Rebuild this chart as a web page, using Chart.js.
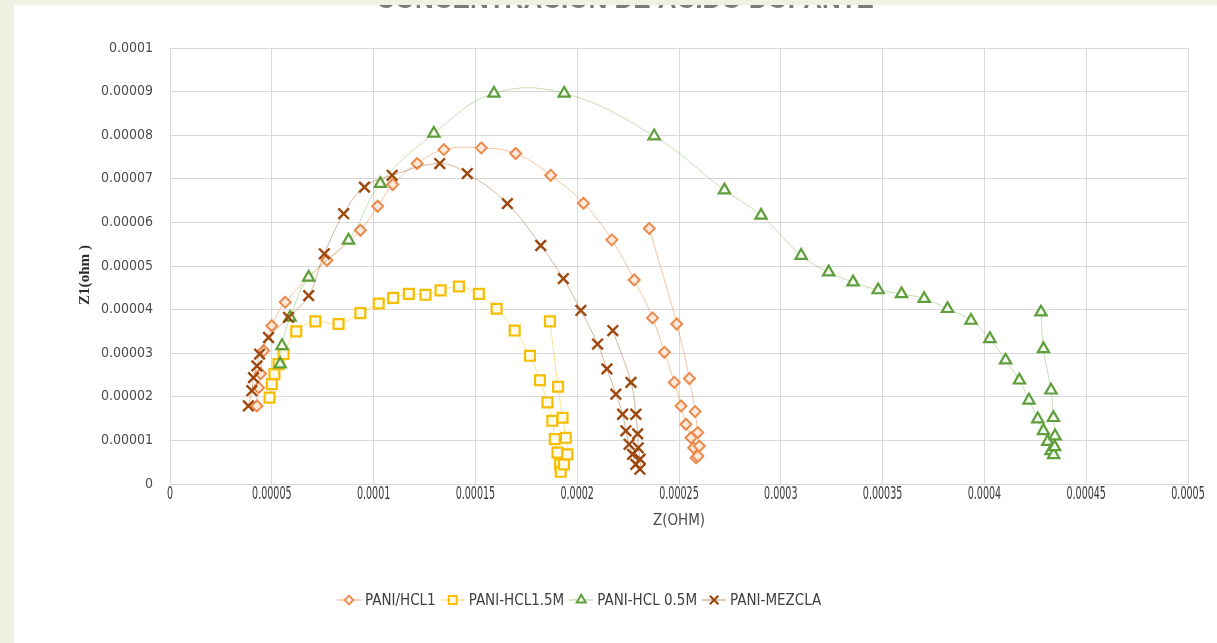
<!DOCTYPE html>
<html>
<head>
<meta charset="utf-8">
<title>Impedancia PANI</title>
<script src="https://cdn.jsdelivr.net/npm/chart.js@4.4.1/dist/chart.umd.min.js"></script>
<style>
  html, body { margin: 0; padding: 0; width: 1217px; height: 643px; overflow: hidden; background: #eef2e3; }
  #panel { position: absolute; left: 14px; top: 5px; width: 1203px; height: 638px; background: #ffffff; overflow: hidden; }
  #wrap { position: absolute; left: 0; top: -19px; width: 1203px; height: 657px; }
</style>
</head>
<body>
<div id="panel"><div id="wrap"><canvas id="c" width="1203" height="657"></canvas></div></div>
<script>
// Nyquist data: real part Z (ohm) and imaginary part Z1 (ohm) per sample
const seriesNames = ['PANI/HCL1', 'PANI-HCL1.5M', 'PANI-HCL 0.5M', 'PANI-MEZCLA'];

const hcl1X = [4.27e-5, 4.35e-5, 4.45e-5, 4.6e-5, 5.0e-5, 5.66e-5, 7.71e-5, 9.35e-5, 1.02e-4, 1.094e-4, 1.214e-4, 1.345e-4, 1.529e-4, 1.698e-4, 1.87e-4, 2.031e-4, 2.17e-4, 2.28e-4, 2.37e-4, 2.428e-4, 2.477e-4, 2.51e-4, 2.534e-4, 2.559e-4, 2.572e-4, 2.584e-4, 2.593e-4, 2.6e-4, 2.592e-4, 2.579e-4, 2.551e-4, 2.489e-4, 2.354e-4];
const hcl1Y = [1.79e-5, 2.21e-5, 2.53e-5, 3.06e-5, 3.63e-5, 4.17e-5, 5.13e-5, 5.82e-5, 6.37e-5, 6.87e-5, 7.35e-5, 7.67e-5, 7.71e-5, 7.58e-5, 7.08e-5, 6.44e-5, 5.6e-5, 4.68e-5, 3.81e-5, 3.02e-5, 2.33e-5, 1.79e-5, 1.37e-5, 1.06e-5, 8.3e-6, 6.0e-6, 6.4e-6, 8.7e-6, 1.18e-5, 1.66e-5, 2.42e-5, 3.67e-5, 5.86e-5];

const hcl15X = [4.89e-5, 5.0e-5, 5.13e-5, 5.33e-5, 5.58e-5, 6.2e-5, 7.14e-5, 8.28e-5, 9.35e-5, 1.025e-4, 1.096e-4, 1.173e-4, 1.255e-4, 1.329e-4, 1.419e-4, 1.517e-4, 1.604e-4, 1.693e-4, 1.768e-4, 1.817e-4, 1.854e-4, 1.878e-4, 1.89e-4, 1.903e-4, 1.916e-4, 1.919e-4, 1.935e-4, 1.952e-4, 1.944e-4, 1.928e-4, 1.906e-4, 1.866e-4];
const hcl15Y = [1.98e-5, 2.29e-5, 2.52e-5, 2.75e-5, 2.98e-5, 3.5e-5, 3.73e-5, 3.67e-5, 3.92e-5, 4.14e-5, 4.27e-5, 4.36e-5, 4.34e-5, 4.44e-5, 4.53e-5, 4.36e-5, 4.02e-5, 3.52e-5, 2.94e-5, 2.38e-5, 1.87e-5, 1.45e-5, 1.03e-5, 7.2e-6, 4.5e-6, 2.8e-6, 4.5e-6, 6.8e-6, 1.06e-5, 1.52e-5, 2.23e-5, 3.73e-5];

const hcl05X = [5.41e-5, 5.5e-5, 5.9e-5, 6.81e-5, 8.77e-5, 1.033e-4, 1.296e-4, 1.591e-4, 1.936e-4, 2.378e-4, 2.723e-4, 2.903e-4, 3.1e-4, 3.235e-4, 3.355e-4, 3.478e-4, 3.593e-4, 3.704e-4, 3.819e-4, 3.934e-4, 4.027e-4, 4.104e-4, 4.172e-4, 4.219e-4, 4.262e-4, 4.29e-4, 4.311e-4, 4.327e-4, 4.34e-4, 4.345e-4, 4.347e-4, 4.339e-4, 4.327e-4, 4.29e-4, 4.278e-4];
const hcl05Y = [2.75e-5, 3.17e-5, 3.82e-5, 4.74e-5, 5.59e-5, 6.89e-5, 8.04e-5, 8.96e-5, 8.96e-5, 7.98e-5, 6.74e-5, 6.16e-5, 5.24e-5, 4.86e-5, 4.63e-5, 4.45e-5, 4.36e-5, 4.25e-5, 4.02e-5, 3.75e-5, 3.33e-5, 2.84e-5, 2.38e-5, 1.92e-5, 1.49e-5, 1.22e-5, 9.7e-6, 7.6e-6, 6.7e-6, 8.5e-6, 1.1e-5, 1.52e-5, 2.15e-5, 3.1e-5, 3.94e-5];

const mezclaX = [3.85e-5, 4.02e-5, 4.1e-5, 4.27e-5, 4.4e-5, 4.84e-5, 5.82e-5, 6.81e-5, 7.58e-5, 8.53e-5, 9.55e-5, 1.091e-4, 1.325e-4, 1.46e-4, 1.657e-4, 1.821e-4, 1.932e-4, 2.018e-4, 2.1e-4, 2.146e-4, 2.19e-4, 2.223e-4, 2.239e-4, 2.255e-4, 2.272e-4, 2.288e-4, 2.308e-4, 2.309e-4, 2.3e-4, 2.297e-4, 2.288e-4, 2.264e-4, 2.175e-4];
const mezclaY = [1.79e-5, 2.14e-5, 2.44e-5, 2.71e-5, 2.98e-5, 3.36e-5, 3.82e-5, 4.32e-5, 5.28e-5, 6.2e-5, 6.81e-5, 7.08e-5, 7.35e-5, 7.12e-5, 6.43e-5, 5.47e-5, 4.71e-5, 3.98e-5, 3.21e-5, 2.64e-5, 2.06e-5, 1.6e-5, 1.22e-5, 9.1e-6, 6.8e-6, 4.5e-6, 3.4e-6, 5.7e-6, 8.3e-6, 1.15e-5, 1.6e-5, 2.33e-5, 3.52e-5];

const xTickValues = [0, 0.00005, 0.0001, 0.00015, 0.0002, 0.00025, 0.0003, 0.00035, 0.0004, 0.00045, 0.0005];
const xTickLabels = ['0', '0.00005', '0.0001', '0.00015', '0.0002', '0.00025', '0.0003', '0.00035', '0.0004', '0.00045', '0.0005'];
const yTickValues = [0, 0.00001, 0.00002, 0.00003, 0.00004, 0.00005, 0.00006, 0.00007, 0.00008, 0.00009, 0.0001];
const yTickLabels = ['0', '0.00001', '0.00002', '0.00003', '0.00004', '0.00005', '0.00006', '0.00007', '0.00008', '0.00009', '0.0001'];

const chartTitle = 'CONCENTRACION DE ACIDO DOPANTE';
const xTitle = 'Z(OHM)';
const yTitle = 'Z1(ohm )';

const toPoints = (xs, ys) => xs.map((x, i) => ({ x: x, y: ys[i] }));

const NARROW = '"Liberation Sans Narrow", "DejaVu Sans Condensed", "Liberation Sans", sans-serif';
const TEXT_GREY = '#4d4d4d';

function series(label, xs, ys, style, order) {
  return Object.assign({
    label: label,
    data: toPoints(xs, ys),
    showLine: true,
    tension: 0.4,
    borderWidth: 1,
    order: order
  }, style);
}

const datasets = [
  series(seriesNames[0], hcl1X, hcl1Y, {
    borderColor: 'rgba(237,125,49,0.45)', pointStyle: 'rectRot', pointRadius: 5.5,
    pointBorderWidth: 2, pointBorderColor: '#ec8a4c', pointBackgroundColor: '#fdeadc'
  }, 4),
  series(seriesNames[1], hcl15X, hcl15Y, {
    borderColor: 'rgba(255,192,0,0.45)', pointStyle: 'rect', pointRadius: 7,
    pointBorderWidth: 2.2, pointBorderColor: '#f7bd00', pointBackgroundColor: '#fffbea'
  }, 3),
  series(seriesNames[2], hcl05X, hcl05Y, {
    borderColor: 'rgba(112,173,71,0.4)', pointStyle: 'triangle', pointRadius: 6.5,
    pointBorderWidth: 2.2, pointBorderColor: '#5f9e3c', pointBackgroundColor: '#f3faee'
  }, 2),
  series(seriesNames[3], mezclaX, mezclaY, {
    borderColor: 'rgba(158,72,14,0.4)', pointStyle: 'crossRot', pointRadius: 7.5,
    pointBorderWidth: 2.4, pointBorderColor: '#9e480e', pointBackgroundColor: '#9e480e'
  }, 1)
];

// marker shapes for the legend, same geometry as the point styles used above
function markerPath(ctx, style, x, y, r) {
  ctx.beginPath();
  if (style === 'rectRot') {
    ctx.moveTo(x, y - r); ctx.lineTo(x + r, y); ctx.lineTo(x, y + r); ctx.lineTo(x - r, y); ctx.closePath();
  } else if (style === 'rect') {
    const s = r * Math.SQRT1_2;
    ctx.rect(x - s, y - s, 2 * s, 2 * s);
  } else if (style === 'triangle') {
    ctx.moveTo(x, y - r);
    ctx.lineTo(x + r * 0.866, y + r * 0.5);
    ctx.lineTo(x - r * 0.866, y + r * 0.5);
    ctx.closePath();
  } else if (style === 'crossRot') {
    const d = r * Math.SQRT1_2;
    ctx.moveTo(x - d, y - d); ctx.lineTo(x + d, y + d);
    ctx.moveTo(x + d, y - d); ctx.lineTo(x - d, y + d);
  }
}

const decorations = {
  id: 'decorations',
  afterDraw(chart) {
    const ctx = chart.ctx;
    ctx.save();

    // chart title (sits above the visible frame)
    ctx.font = 'bold 26px "Liberation Sans", Arial, sans-serif';
    ctx.fillStyle = '#7a7a7a';
    ctx.textAlign = 'center';
    ctx.textBaseline = 'alphabetic';
    ctx.fillText(chartTitle, 611, 22);

    // condensed tick labels under the horizontal axis, placed by the x scale
    const xs = chart.scales.x;
    ctx.font = '18px ' + NARROW;
    ctx.fillStyle = '#383838';
    ctx.textAlign = 'center';
    ctx.textBaseline = 'middle';
    xTickValues.forEach((v, i) => {
      ctx.save();
      ctx.translate(xs.getPixelForValue(v), xs.top + 10);
      ctx.scale(0.59, 1);
      ctx.fillText(xTickLabels[i], 0, 0);
      ctx.restore();
    });

    // vertical axis title, bold and slightly elongated
    ctx.save();
    ctx.translate(71, 289);
    ctx.rotate(-Math.PI / 2);
    ctx.scale(1.08, 1);
    ctx.font = 'bold 14px "Liberation Serif", "DejaVu Serif", serif';
    ctx.fillStyle = '#2e2e2e';
    ctx.textAlign = 'center';
    ctx.textBaseline = 'middle';
    ctx.fillText(yTitle, 0, 0);
    ctx.restore();

    // legend: line segment with marker, then series name
    const ly = 614;
    let lx = 323;
    ctx.font = '15px ' + NARROW;
    ctx.textAlign = 'left';
    ctx.textBaseline = 'middle';
    chart.data.datasets.forEach(ds => {
      ctx.strokeStyle = ds.borderColor;
      ctx.lineWidth = 1.5;
      ctx.beginPath();
      ctx.moveTo(lx, ly); ctx.lineTo(lx + 24, ly);
      ctx.stroke();
      markerPath(ctx, ds.pointStyle, lx + 12, ly, ds.pointRadius * 0.8);
      ctx.lineWidth = ds.pointBorderWidth * 0.9;
      ctx.strokeStyle = ds.pointBorderColor;
      if (ds.pointStyle !== 'crossRot') {
        ctx.fillStyle = ds.pointBackgroundColor;
        ctx.fill();
      }
      ctx.stroke();
      ctx.fillStyle = '#404040';
      ctx.fillText(ds.label, lx + 28, ly + 1);
      lx += 28 + ctx.measureText(ds.label).width + 5;
    });
    ctx.restore();
  }
};

new Chart(document.getElementById('c'), {
  type: 'scatter',
  data: { datasets: datasets },
  options: {
    responsive: false,
    animation: false,
    layout: { padding: { left: 0, right: 29, top: 62, bottom: 63 } },
    plugins: {
      legend: { display: false },
      tooltip: { enabled: false },
      title: { display: false }
    },
    scales: {
      x: {
        type: 'linear',
        min: 0,
        max: 0.0005,
        afterBuildTicks: s => { s.ticks = xTickValues.map(v => ({ value: v })); },
        afterFit: s => { s.height = 96; },
        grid: { color: '#d9d9d9', lineWidth: 1, drawTicks: false },
        border: { color: '#d9d9d9' },
        ticks: { display: false },
        title: {
          display: true, text: xTitle, color: TEXT_GREY,
          font: { family: NARROW, size: 15 },
          padding: { top: 0, bottom: 50 }
        }
      },
      y: {
        type: 'linear',
        min: 0,
        max: 0.0001,
        afterBuildTicks: s => { s.ticks = yTickValues.map(v => ({ value: v })); },
        afterFit: s => { s.width = 156; },
        grid: { color: '#d9d9d9', lineWidth: 1, drawTicks: false },
        border: { color: '#d9d9d9' },
        ticks: {
          padding: 17, autoSkip: false, color: TEXT_GREY,
          font: { family: NARROW, size: 14 },
          callback: (v, i) => yTickLabels[i]
        },
        title: { display: false }
      }
    }
  },
  plugins: [decorations]
});
</script>
</body>
</html>
